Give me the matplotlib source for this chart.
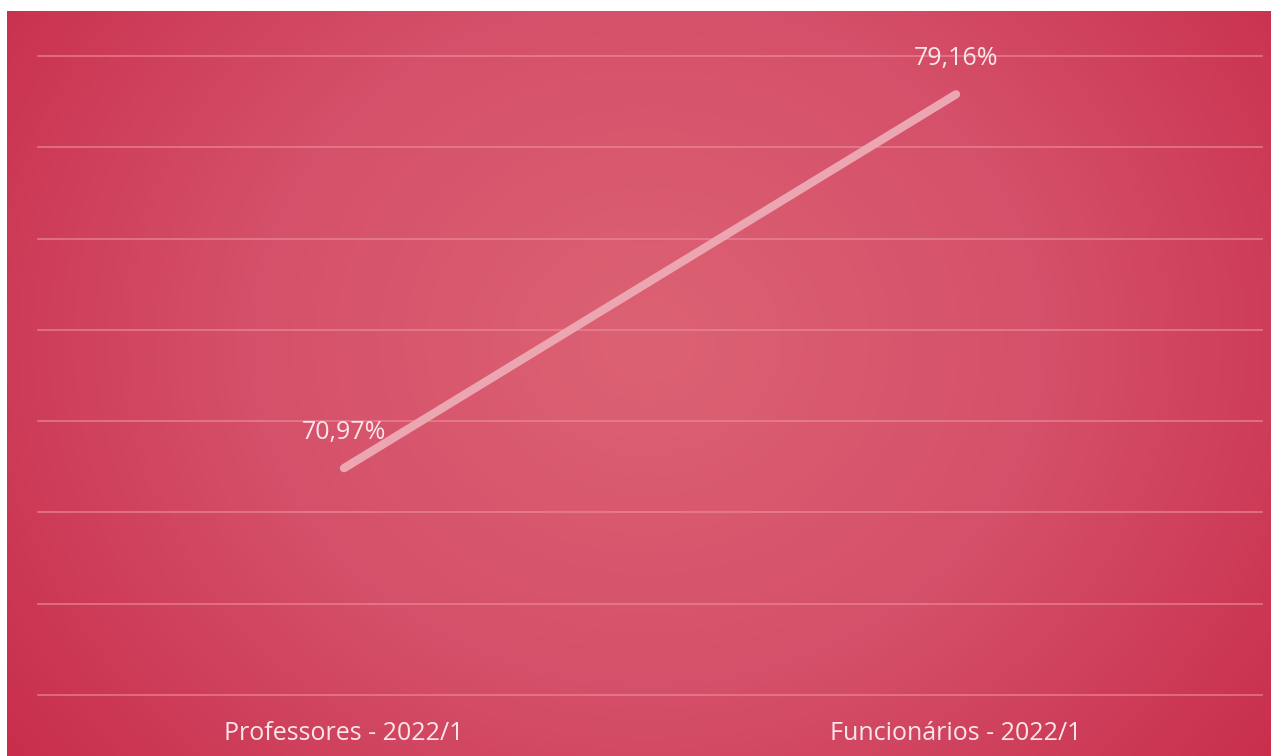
import numpy as np
import matplotlib.pyplot as plt
from matplotlib.colors import LinearSegmentedColormap

categorias = ["Professores - 2022/1", "Funcionários - 2022/1"]
valores = [70.97, 79.16]
rotulos = ["70,97%", "79,16%"]

W, H = 1271, 756
fig = plt.figure(figsize=(W / 100, H / 100), dpi=100)
fig.patch.set_facecolor("white")

# fundo com gradiente radial
bg = fig.add_axes([7 / W, 0, (W - 7) / W, (H - 11) / H])
yy, xx = np.mgrid[0:745, 0:1264]
cx, cy = 640, 330
r = np.sqrt((xx - cx) ** 2 + ((yy - cy) * 1.15) ** 2)
r = r / r.max()
cmap = LinearSegmentedColormap.from_list("fundo", ["#dc6273", "#d5506a", "#c82e4b"])
bg.imshow(r, cmap=cmap, aspect="auto", interpolation="bilinear")
bg.axis("off")

ax = fig.add_axes([38 / W, (H - 695) / H, (1262 - 38) / W, (695 - 56) / H])
ax.patch.set_alpha(0)
x = np.arange(len(categorias))
ax.plot(x, valores, color="#eca6b2", lw=6, solid_capstyle="round", zorder=3)

ax.set_xlim(-0.5, 1.5)
ax.set_ylim(66, 80)
ax.set_yticks(np.arange(66, 81, 2))
ax.grid(axis="y", color="#ec8e9e", lw=1.2, alpha=0.7)
for g in ax.get_ygridlines():
    g.set_clip_on(False)
ax.set_xticks(x)
ax.set_xticklabels(categorias, fontsize=18, color="#fbe6ea", family="Open Sans")
ax.tick_params(axis="x", length=0, pad=19)
ax.tick_params(axis="y", length=0, labelleft=False)
for s in ax.spines.values():
    s.set_visible(False)

for xi, v, t in zip(x, valores, rotulos):
    ax.annotate(t, (xi, v), xytext=(0, 17), textcoords="offset points",
                ha="center", va="bottom", fontsize=18, color="#fbe6ea",
                family="Open Sans")

fig.savefig("out.png", dpi=100)
